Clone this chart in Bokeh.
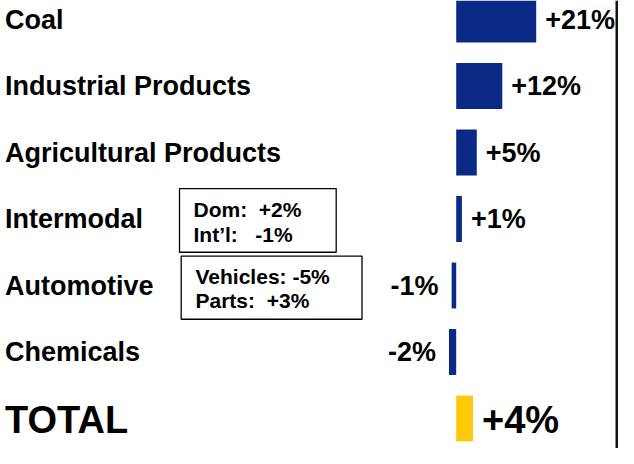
from bokeh.plotting import figure
from bokeh.models import ColumnDataSource, Range1d, Span
from bokeh.core.properties import value
from bokeh.embed import file_html
from bokeh.resources import INLINE

# ---------------- data ----------------
categories = ["Coal", "Industrial Products", "Agricultural Products",
              "Intermodal", "Automotive", "Chemicals", "TOTAL"]
changes = [21.0, 12.1, 5.4, 1.5, -1.2, -1.9, 4.4]
change_labels = ["+21%", "+12%", "+5%", "+1%", "-1%", "-2%", "+4%"]
intermodal_detail = ["Dom:\u00a0 +2%", "Int\u2019l:\u00a0\u00a0 -1%"]
automotive_detail = ["Vehicles: -5%", "Parts:\u00a0 +3%"]

# ---------------- layout helpers ----------------
W, H = 618, 448
X_SHIFT = 6               # reference px -> figure px
PX_PER_PCT = 3.81
ZERO_REF = 461.7          # reference px of 0%
REF_ROW0, REF_ROW = 21.5, 70.0
FIG_ROW0, FIG_ROW = 19.0, 66.5

def rx(px):               # reference px -> data x
    return (px - ZERO_REF) / PX_PER_PCT

def ry(px):               # reference px (from top) -> row units
    return (px - REF_ROW0) / REF_ROW

NAVY = "#0b2a86"
GOLD = "#ffc80a"
FONT = value("Liberation Sans")

rows = list(range(len(categories)))
colors = [NAVY] * (len(categories) - 1) + [GOLD]
is_total = [c == "TOTAL" for c in categories]

p = figure(width=W, height=H,
           x_range=Range1d(rx(X_SHIFT), rx(X_SHIFT + W)),
           y_range=Range1d((H - FIG_ROW0) / FIG_ROW, -FIG_ROW0 / FIG_ROW),
           output_backend="svg", toolbar_location=None, min_border=0,
           x_axis_type=None, y_axis_type=None)
p.grid.visible = False
p.outline_line_color = None
p.background_fill_color = "white"
p.border_fill_color = "white"

src = ColumnDataSource(dict(row=rows, val=changes, color=colors))
p.hbar(y="row", left=0, right="val", height=0.69, fill_color="color",
       line_color=None, source=src)

# category labels
for r, name, tot in zip(rows, categories, is_total):
    p.text(x=[rx(10.5)], y=[r], text=[name], text_font=FONT,
           text_font_style="bold", text_font_size="38px" if tot else "27px",
           text_baseline="middle", text_align="left", text_color="black",
           y_offset=1 if tot else 0)

# value labels
for r, v, lab, tot in zip(rows, changes, change_labels, is_total):
    pos = v >= 0
    p.text(x=[v], y=[r], text=[lab], text_font=FONT, text_font_style="bold",
           text_font_size="38px" if tot else "27px", text_baseline="middle",
           text_align="left" if pos else "right",
           x_offset=9 if pos else -13, text_color="black",
           y_offset=1 if tot else 0)

# detail boxes (reference pixel geometry)
def detail_box(lines, left, right, top, bottom, text_x, first_y, step):
    p.quad(left=[rx(left)], right=[rx(right)], top=[ry(top)], bottom=[ry(bottom)],
           fill_color="white", line_color="black", line_width=1.3)
    for i, t in enumerate(lines):
        p.text(x=[rx(text_x)], y=[ry(first_y + i * step)], text=[t], text_font=FONT,
               text_font_style="bold", text_font_size="21px",
               text_baseline="middle", text_align="left", text_color="black")

detail_box(intermodal_detail, 185, 341.7, 199.5, 266.5, 199, 222, 26)
detail_box(automotive_detail, 186.7, 367.5, 270.5, 337, 201, 292, 25)

# right border line
p.add_layout(Span(location=rx(622.5), dimension="height", line_color="#111111",
                  line_width=3))

open("out.html", "w").write(file_html(p, INLINE))
